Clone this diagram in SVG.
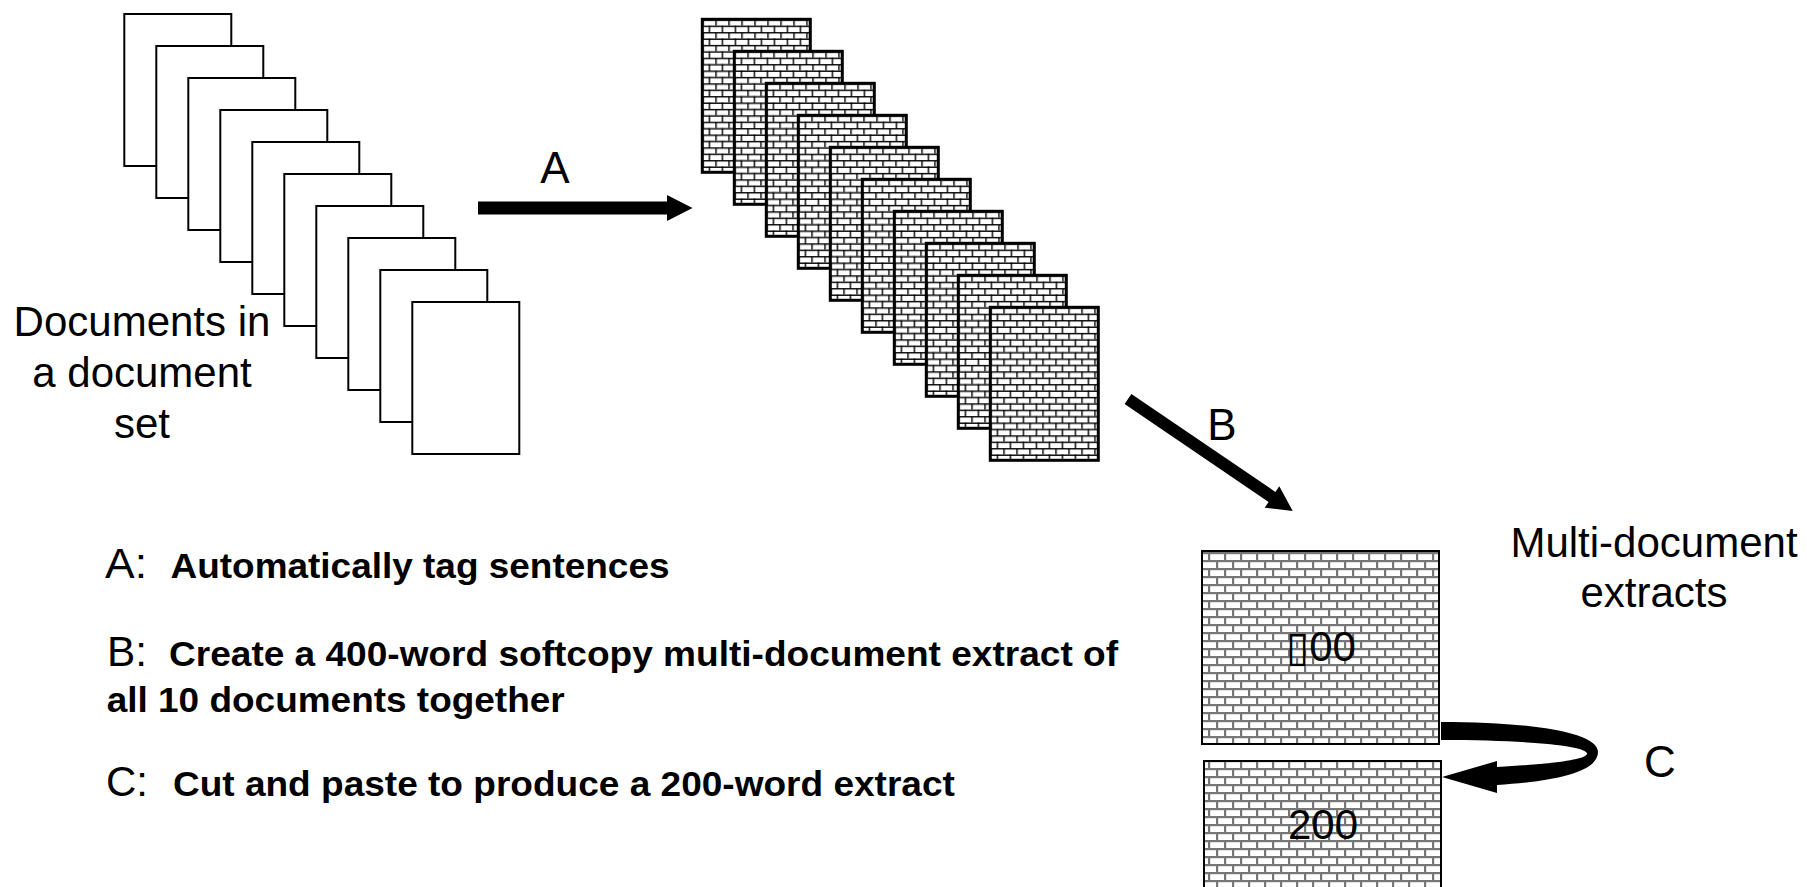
<svg xmlns="http://www.w3.org/2000/svg" width="1807" height="887" viewBox="0 0 1807 887">
<defs>
<style>
text{font-family:"Liberation Sans",Arial,"DejaVu Sans",sans-serif;fill:#000}
.lbl{font-size:44px}
.big{font-size:42px}
.key{font-size:42px}
.desc{font-size:35px;font-weight:bold}
.num{font-size:42px}
.page{fill:#fff;stroke:#000;stroke-width:2}
.tag{fill:url(#brick);stroke:#000;stroke-width:3}
.ext{fill:url(#brick2);stroke:#000;stroke-width:2}
.arr{fill:#000}
</style>
<pattern id="brick" patternUnits="userSpaceOnUse" width="13" height="12.8">
<rect width="13" height="12.8" fill="#fff"/>
<rect x="0" y="0" width="13" height="1.4" fill="#000"/>
<rect x="0" y="6.4" width="13" height="1.4" fill="#000"/>
<rect x="0" y="0" width="1.4" height="6.4" fill="#000"/>
<rect x="6.5" y="6.4" width="1.4" height="6.4" fill="#000"/>
</pattern>
<pattern id="brick2" patternUnits="userSpaceOnUse" width="16" height="16">
<rect width="16" height="16" fill="#fff"/>
<rect x="0" y="0" width="16" height="2.2" fill="#777"/>
<rect x="0" y="8" width="16" height="2.2" fill="#777"/>
<rect x="0" y="0" width="2.2" height="8" fill="#777"/>
<rect x="8" y="8" width="2.2" height="8" fill="#777"/>
</pattern>
<rect id="pg" class="page" x="0" y="0" width="107" height="152"/>
<rect id="tg" class="tag" x="0" y="0" width="108" height="153"/>
</defs>

<g id="document-set">
<use href="#pg" transform="translate(124.3,14)"/>
<use href="#pg" transform="translate(156.3,46)"/>
<use href="#pg" transform="translate(188.3,78)"/>
<use href="#pg" transform="translate(220.3,110)"/>
<use href="#pg" transform="translate(252.3,142)"/>
<use href="#pg" transform="translate(284.3,174)"/>
<use href="#pg" transform="translate(316.3,206)"/>
<use href="#pg" transform="translate(348.3,238)"/>
<use href="#pg" transform="translate(380.3,270)"/>
<use href="#pg" transform="translate(412.3,302)"/>
<text class="big" x="142" y="336" text-anchor="middle">Documents in</text>
<text class="big" x="142" y="387" text-anchor="middle">a document</text>
<text class="big" x="142" y="438" text-anchor="middle">set</text>
</g>

<g id="tagged-set">
<use href="#tg" transform="translate(702.3,19.3)"/>
<use href="#tg" transform="translate(734.3,51.3)"/>
<use href="#tg" transform="translate(766.3,83.3)"/>
<use href="#tg" transform="translate(798.3,115.3)"/>
<use href="#tg" transform="translate(830.3,147.3)"/>
<use href="#tg" transform="translate(862.3,179.3)"/>
<use href="#tg" transform="translate(894.3,211.3)"/>
<use href="#tg" transform="translate(926.3,243.3)"/>
<use href="#tg" transform="translate(958.3,275.3)"/>
<use href="#tg" transform="translate(990.3,307.3)"/>
</g>

<g id="extract-400">
<rect class="ext" x="1202" y="551" width="237" height="193"/>
<text class="num" x="1321" y="661" text-anchor="middle">▯00</text>
</g>

<g id="extract-200">
<rect class="ext" x="1204" y="761" width="237" height="160"/>
<text class="num" x="1323" y="839" text-anchor="middle">200</text>
</g>

<g id="extracts-label">
<text class="big" x="1654" y="557" text-anchor="middle">Multi-document</text>
<text class="big" x="1654" y="607" text-anchor="middle">extracts</text>
</g>

<g id="connectors">
<polygon class="arr" points="478,201.5 667,201.5 667,195 692.5,208 667,221 667,214.5 478,214.5"/>
<polygon class="arr" points="1131.4,394 1275.4,491.9 1279.3,486.2 1292.7,511 1264.7,507.7 1268.6,501.9 1124.6,404"/>
<path class="arr" d="M1441,722 C1530,722 1598,732 1598,752 C1598,771 1560,781 1497,785 L1497,793 L1442,777 L1497,761 L1497,767 C1550,764 1585,760 1587,754 C1589,746 1530,740 1441,740 Z"/>
<text class="lbl" x="555" y="183" text-anchor="middle">A</text>
<text class="lbl" x="1222" y="440" text-anchor="middle">B</text>
<text class="lbl" x="1660" y="777" text-anchor="middle">C</text>
</g>

<g id="legend">
<text class="key" x="105" y="578" textLength="42" lengthAdjust="spacingAndGlyphs">A:</text>
<text class="desc" x="170.5" y="578" textLength="499" lengthAdjust="spacingAndGlyphs">Automatically tag sentences</text>
<text class="key" x="107" y="666" textLength="40" lengthAdjust="spacingAndGlyphs">B:</text>
<text class="desc" x="169" y="666" textLength="949" lengthAdjust="spacingAndGlyphs">Create a 400-word softcopy multi-document extract of</text>
<text class="desc" x="106.7" y="712" textLength="458" lengthAdjust="spacingAndGlyphs">all 10 documents together</text>
<text class="key" x="106" y="796" textLength="42" lengthAdjust="spacingAndGlyphs">C:</text>
<text class="desc" x="172.9" y="796" textLength="782" lengthAdjust="spacingAndGlyphs">Cut and paste to produce a 200-word extract</text>
</g>
</svg>
